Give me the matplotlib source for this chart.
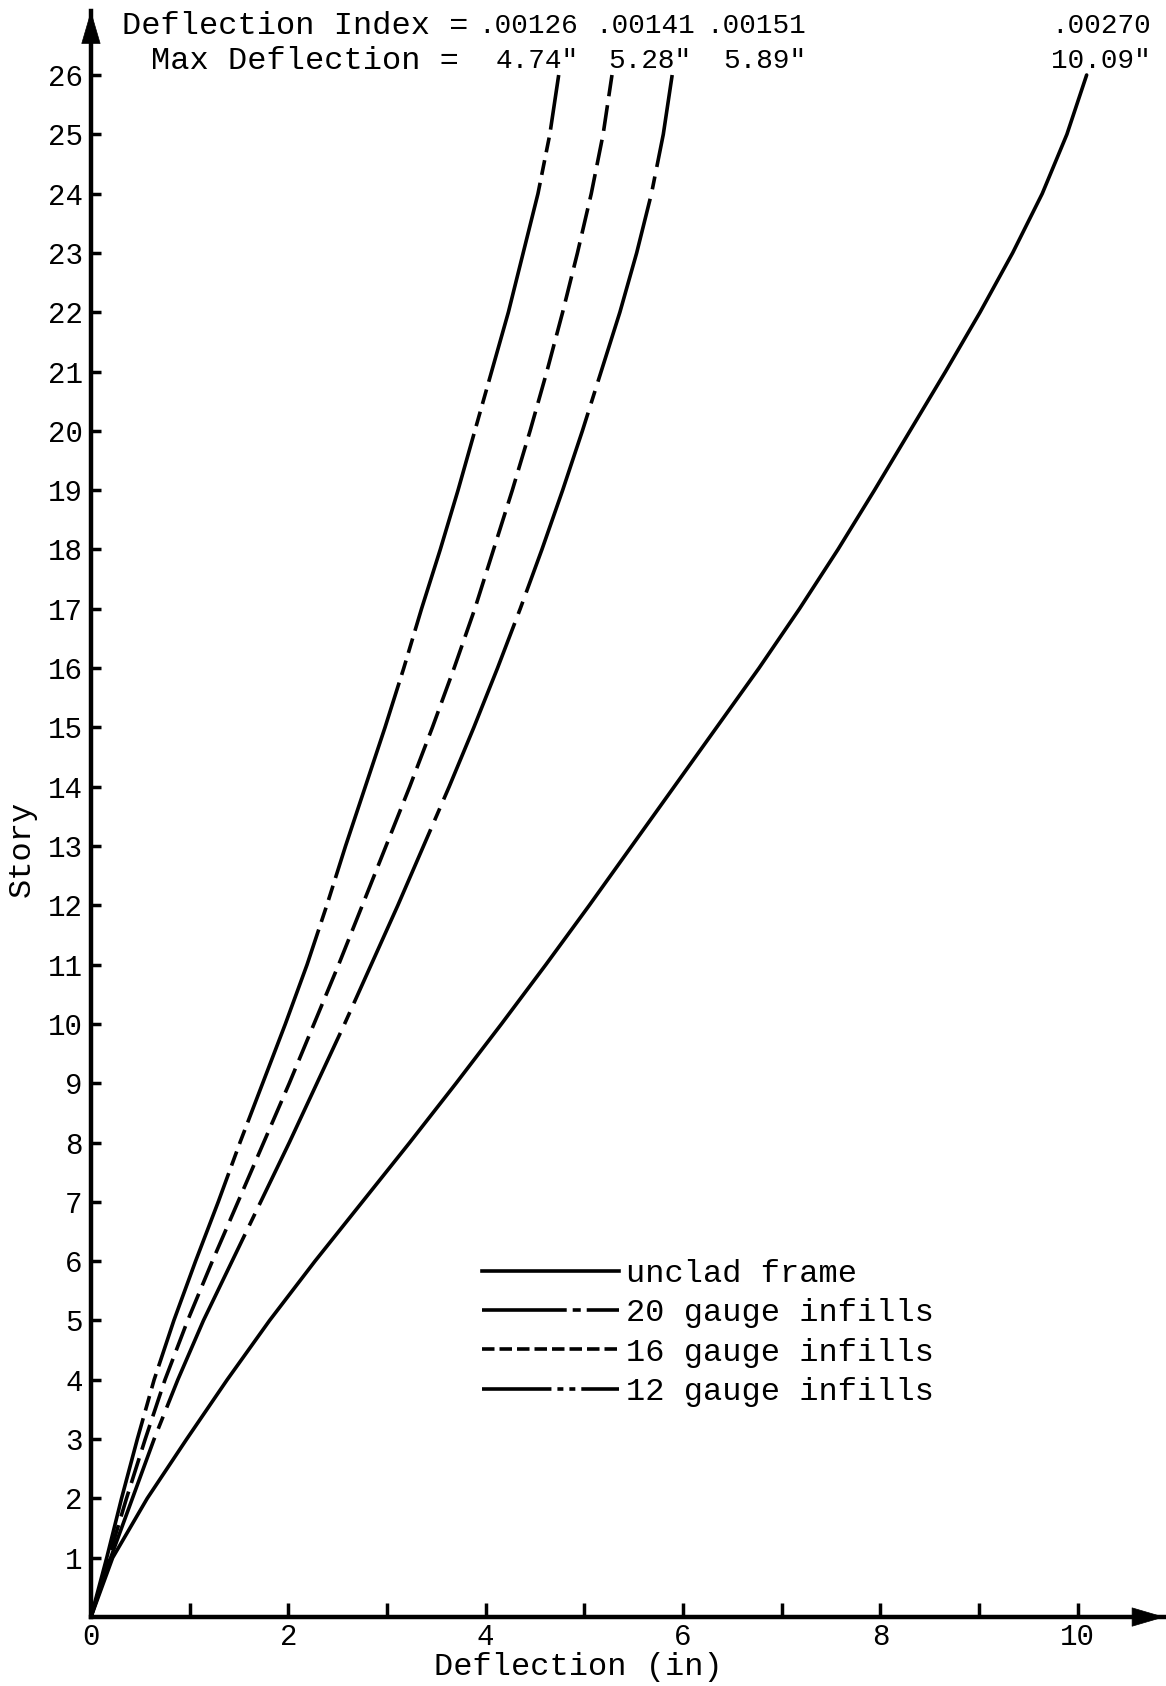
import matplotlib
matplotlib.use("Agg")
import matplotlib.pyplot as plt
from matplotlib.lines import Line2D

plt.rcParams['font.family'] = ['Liberation Mono', 'DejaVu Sans Mono', 'DejaVu Sans']
plt.rcParams['lines.scale_dashes'] = False

# ---- data ----
stories = list(range(0, 27))
unclad = [0.00, 0.22, 0.57, 0.97, 1.38, 1.81, 2.27, 2.75, 3.23, 3.70, 4.16, 4.61, 5.05, 5.48,
          5.91, 6.34, 6.77, 7.18, 7.57, 7.94, 8.30, 8.66, 9.01, 9.34, 9.64, 9.89, 10.09]
gauge20 = [0.00, 0.20, 0.42, 0.64, 0.88, 1.14, 1.43, 1.72, 2.01, 2.29, 2.57, 2.84, 3.11, 3.37,
           3.63, 3.88, 4.12, 4.35, 4.57, 4.78, 4.98, 5.17, 5.36, 5.53, 5.68, 5.80, 5.89]
gauge16 = [0.00, 0.18, 0.36, 0.55, 0.75, 0.98, 1.23, 1.49, 1.75, 2.01, 2.26, 2.51, 2.75, 2.99,
           3.23, 3.46, 3.68, 3.89, 4.08, 4.27, 4.45, 4.62, 4.78, 4.93, 5.07, 5.19, 5.28]
gauge12 = [0.00, 0.16, 0.31, 0.47, 0.64, 0.84, 1.06, 1.29, 1.51, 1.74, 1.97, 2.19, 2.39, 2.58,
           2.78, 2.98, 3.17, 3.35, 3.54, 3.72, 3.89, 4.06, 4.23, 4.38, 4.53, 4.65, 4.74]

series_labels = ['unclad frame', '20 gauge infills', '16 gauge infills', '12 gauge infills']
deflection_index = ['.00126', '.00141', '.00151', '.00270']
max_deflection = ['4.74"', '5.28"', '5.89"', '10.09"']

x_ticks_major = [0, 2, 4, 6, 8, 10]
x_ticks_minor = [1, 3, 5, 7, 9]
y_ticks = list(range(1, 27))

# ---- figure ----
fig = plt.figure(figsize=(11.66, 16.86), dpi=100)
ax = fig.add_axes([0.0780, 0.0409, 0.9208, 0.9526])
ax.set_xlim(0, 10.88)
ax.set_ylim(0, 27.08)

lw = 2.6
ax.plot(unclad, stories, color='black', lw=lw, solid_capstyle='round', solid_joinstyle='round')
ax.plot(gauge20, stories, color='black', lw=lw, dashes=[137, 7, 9.4, 7], dash_capstyle='butt')
ax.plot(gauge16, stories, color='black', lw=lw, dashes=[18.7, 6.5], dash_capstyle='butt')
ax.plot(gauge12, stories, color='black', lw=lw, dashes=[148, 5.8, 10.8, 5.8, 10.8, 5.8],
        dash_capstyle='butt')

# axes as arrows
for s in ['top', 'right']:
    ax.spines[s].set_visible(False)
for s in ['left', 'bottom']:
    ax.spines[s].set_linewidth(3.2)
arrow_kw = dict(arrowstyle='-|>,head_length=0.75,head_width=0.22', mutation_scale=30,
                lw=0.5, color='black', shrinkA=0, shrinkB=0)
ax.annotate('', xy=(0, 1), xytext=(0, 0.97), xycoords='axes fraction',
            textcoords='axes fraction', arrowprops=arrow_kw, annotation_clip=False)
ax.annotate('', xy=(1, 0), xytext=(0.97, 0), xycoords='axes fraction',
            textcoords='axes fraction', arrowprops=arrow_kw, annotation_clip=False)

ax.set_yticks(y_ticks)
ax.set_yticklabels([str(v) for v in y_ticks])
ax.set_xticks(x_ticks_major)
ax.set_xticklabels([str(v) for v in x_ticks_major])
ax.set_xticks(x_ticks_minor, minor=True)
ax.tick_params(axis='y', direction='in', length=7, width=2.5, labelsize=21, pad=6)
ax.tick_params(axis='x', which='both', direction='in', length=10, width=2.5, labelsize=21, pad=4)

ax.set_xlabel('Deflection (in)', fontsize=23)
ax.xaxis.set_label_coords(4.94 / 10.88, -0.0215)
ax.set_ylabel('Story', fontsize=23)
ax.yaxis.set_label_coords(-0.050, 0.478)

# header annotations
ax.text(0.31, 26.82, 'Deflection Index =', fontsize=23, ha='left', va='center', clip_on=False)
ax.text(0.605, 26.24, 'Max Deflection =', fontsize=23, ha='left', va='center', clip_on=False)
idx_x = [4.94, 6.12, 7.25, 10.74]
max_x = [4.94, 6.08, 7.25, 10.74]
for xi, s in zip(idx_x, deflection_index):
    ax.text(xi, 26.82, s, fontsize=20, ha='right', va='center', clip_on=False)
for xi, s in zip(max_x, max_deflection):
    ax.text(xi, 26.24, s, fontsize=20, ha='right', va='center', clip_on=False)

# legend
handles = [
    Line2D([], [], color='black', lw=lw),
    Line2D([], [], color='black', lw=lw, dashes=[61, 4.3, 5.8, 4.3, 100]),
    Line2D([], [], color='black', lw=lw, dashes=[9, 3.6]),
    Line2D([], [], color='black', lw=lw, dashes=[50, 4.3, 4.3, 4.3, 4.3, 4.3, 100]),
]
fig.legend(handles, series_labels, loc='upper left',
           bbox_to_anchor=(482 / 1166, 1 - 1259 / 1686), frameon=False,
           fontsize=23, handlelength=4.3, handletextpad=0.2, labelspacing=0.29,
           borderpad=0, borderaxespad=0)

fig.savefig('out.png', dpi=100, facecolor='white')
